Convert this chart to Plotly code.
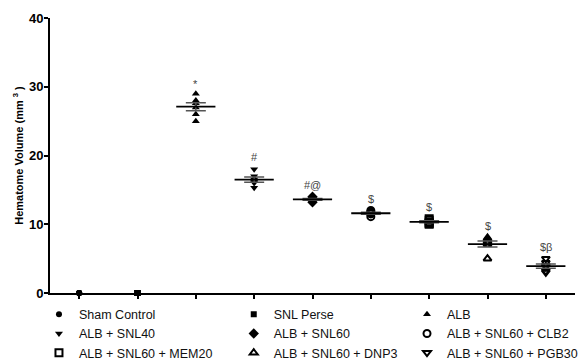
import numpy as np
import plotly.graph_objects as go

# Groups in plotting order
groups = [
    "Sham Control", "SNL Perse", "ALB",
    "ALB + SNL40", "ALB + SNL60", "ALB + SNL60 + CLB2",
    "ALB + SNL60 + MEM20", "ALB + SNL60 + DNP3", "ALB + SNL60 + PGB30",
]

# Individual hematome volumes (mm^3) per group
sham_control = [0, 0, 0, 0, 0]
snl_perse = [0, 0, 0, 0, 0]
alb = [29, 28, 27.6, 27, 26, 25]
alb_snl40 = [18, 17, 16.5, 16.2, 16, 15.3]
alb_snl60 = [14, 13.8, 13.6, 13.5, 13.2]
alb_snl60_clb2 = [12, 11.8, 11.6, 11.5, 11.1]
alb_snl60_mem20 = [10.8, 10.6, 10.3, 10.1, 10.0]
alb_snl60_dnp3 = [8, 7.8, 7.5, 7.3, 7.1, 5]
alb_snl60_pgb30 = [5, 4.4, 4, 3.8, 3.2, 3]

values = [sham_control, snl_perse, alb, alb_snl40, alb_snl60,
          alb_snl60_clb2, alb_snl60_mem20, alb_snl60_dnp3, alb_snl60_pgb30]

# Significance labels shown above each group
sig_labels = ["", "", "*", "#", "#@", "$", "$", "$", "$\u03b2"]

symbols = ["circle", "square", "triangle-up", "triangle-down", "diamond",
           "circle-open", "square-open", "triangle-up-open", "triangle-down-open"]
sizes = [6, 6, 7, 7, 8, 7, 7, 7, 7]
# legend column for each group (three stacked columns)
legend_ids = ["legend", "legend2", "legend3"] * 3

FONT = "Liberation Sans, Arial, sans-serif"

fig = go.Figure()

for i, (name, vals) in enumerate(zip(groups, values)):
    vals = np.asarray(vals, dtype=float)
    fig.add_trace(go.Scatter(
        x=[i] * len(vals), y=vals, mode="markers", name=name,
        legend=legend_ids[i], cliponaxis=False,
        marker=dict(symbol=symbols[i], size=sizes[i], color="black",
                    line=dict(color="black", width=2 if "open" in symbols[i] else 0)),
    ))

# Mean line with SEM error bars for each group (zero groups sit on the axis)
for i, vals in enumerate(values):
    vals = np.asarray(vals, dtype=float)
    mean = vals.mean()
    if mean == 0:
        continue
    sem = vals.std(ddof=1) / np.sqrt(len(vals))
    fig.add_trace(go.Scatter(
        x=[i], y=[mean], mode="markers", showlegend=False, cliponaxis=False,
        hoverinfo="skip",
        marker=dict(symbol="line-ew", size=28, color="black",
                    line=dict(color="black", width=1.8)),
        error_y=dict(type="data", array=[sem], visible=True, width=10,
                     thickness=1.5, color="#555555"),
    ))

# Significance markers above the highest point of each group
for i, (vals, lab) in enumerate(zip(values, sig_labels)):
    if lab:
        fig.add_annotation(
            x=i, y=max(vals), text=lab, showarrow=False,
            yanchor="middle", yshift=12 if lab != "*" else 10,
            font=dict(family=FONT, size=11, color="#444444"),
        )

legend_style = dict(
    orientation="v", xanchor="left", yanchor="top",
    bgcolor="rgba(0,0,0,0)", borderwidth=0,
    font=dict(family=FONT, size=12.5, color="#111111"),
    itemsizing="trace", tracegroupgap=0,
)

LEG_Y = -0.024

fig.update_layout(
    width=587, height=359,
    margin=dict(l=50, r=12, t=18, b=66, autoexpand=False),
    paper_bgcolor="white", plot_bgcolor="white",
    font=dict(family=FONT, color="black"),
    showlegend=True,
    legend=dict(x=-0.021, y=LEG_Y, **legend_style),
    legend2=dict(x=0.350, y=LEG_Y, **legend_style),
    legend3=dict(x=0.680, y=LEG_Y, **legend_style),
    xaxis=dict(
        range=[-0.5, 8.5], tickvals=list(range(len(groups))),
        showticklabels=False, ticks="outside", ticklen=4, tickwidth=1.5,
        tickcolor="black", showline=True, linecolor="black", linewidth=2,
        showgrid=False, zeroline=False,
    ),
    yaxis=dict(
        range=[0, 40], tickvals=[0, 10, 20, 30, 40],
        ticktext=["<b>0</b>", "<b>10</b>", "<b>20</b>", "<b>30</b>", "<b>40</b>"],
        ticks="outside", ticklen=4, tickwidth=2, tickcolor="black",
        ticklabelstandoff=-2,
        showline=True, linecolor="black", linewidth=2,
        showgrid=False, zeroline=False,
        tickfont=dict(family=FONT, size=13, color="black"),
        title=dict(text="<b>Hematome Volume (mm <sup>3</sup> )</b>",
                   font=dict(family=FONT, size=11, color="black"), standoff=3),
    ),
)

fig.write_html("out.html")
